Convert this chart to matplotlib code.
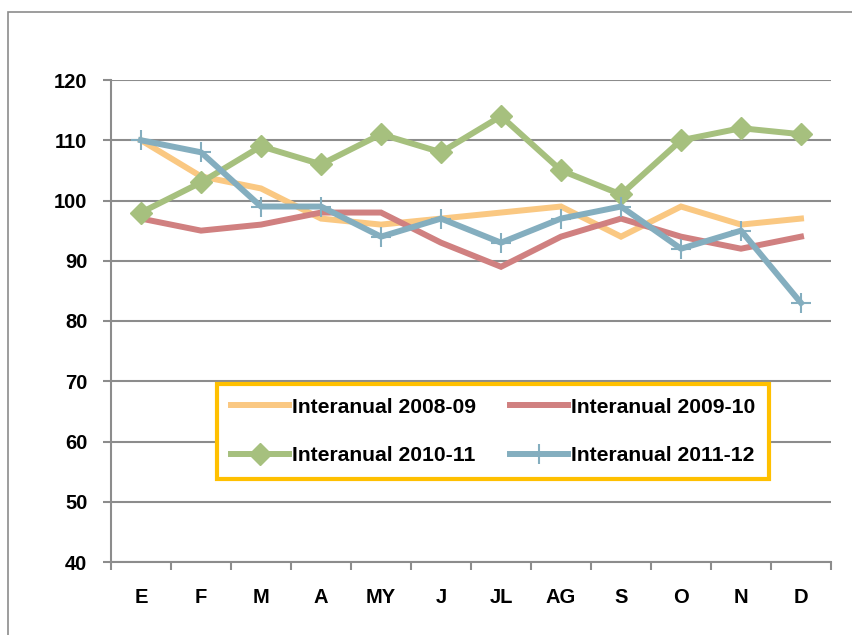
import matplotlib
matplotlib.use("Agg")
import matplotlib.pyplot as plt
from matplotlib.patches import Rectangle

months = ["E", "F", "M", "A", "MY", "J", "JL", "AG", "S", "O", "N", "D"]
s2008_09 = [110, 104, 102, 97, 96, 97, 98, 99, 94, 99, 96, 97]
s2009_10 = [97, 95, 96, 98, 98, 93, 89, 94, 97, 94, 92, 94]
s2010_11 = [98, 103, 109, 106, 111, 108, 114, 105, 101, 110, 112, 111]
s2011_12 = [110, 108, 99, 99, 94, 97, 93, 97, 99, 92, 95, 83]
labels = ["Interanual 2008-09", "Interanual 2009-10", "Interanual 2010-11", "Interanual 2011-12"]
yticks = [40, 50, 60, 70, 80, 90, 100, 110, 120]

plt.rcParams['font.family'] = ['Liberation Sans', 'DejaVu Sans']
plt.rcParams['font.weight'] = 'bold'
fs = 14.5

fig = plt.figure(figsize=(8.53, 6.35), dpi=100)
# outer chart border
fig.patches.append(Rectangle((8/853, -0.05), 1.0, 1 - 12/635 + 0.05, transform=fig.transFigure,
                             fill=False, edgecolor='#8c8c8c', linewidth=1.2))
ax = fig.add_axes([111/853, 1 - 562/635, 720/853, 482/635])

x = list(range(len(months)))
orange = '#FAC882'
red = '#D08080'
green = '#A6C07E'
blue = '#84AEBF'
lw = 4.3
h0, = ax.plot(x, s2008_09, color=orange, lw=lw, label=labels[0], solid_joinstyle='miter', zorder=3)
h1, = ax.plot(x, s2009_10, color=red, lw=lw, label=labels[1], solid_joinstyle='miter', zorder=3)
h2, = ax.plot(x, s2010_11, color=green, lw=lw, marker='D', markersize=11, label=labels[2], zorder=4)
h3, = ax.plot(x, s2011_12, color=blue, lw=lw, marker='+', markersize=14, markeredgewidth=1.5,
              label=labels[3], zorder=5)

ax.set_xlim(-0.5, 11.5)
ax.set_ylim(40, 120)
ax.set_yticks(yticks)
ax.set_xticks(x)
ax.set_xticklabels(months)
ax.set_xticks([i - 0.5 for i in range(13)], minor=True)
ax.tick_params(axis='x', which='major', length=0, pad=19, labelsize=fs)
ax.tick_params(axis='x', which='minor', length=6, width=1.5, color='#8c8c8c', direction='out')
ax.tick_params(axis='y', length=6, width=1.5, color='#8c8c8c', direction='out', pad=11, labelsize=fs)
for lab in ax.get_xticklabels() + ax.get_yticklabels():
    lab.set_fontweight('bold')

ax.grid(axis='y', color='#8c8c8c', lw=1.5)
ax.set_axisbelow(True)
for sp in ['top', 'right']:
    ax.spines[sp].set_visible(False)
for sp in ['left', 'bottom']:
    ax.spines[sp].set_color('#8c8c8c')
    ax.spines[sp].set_linewidth(1.5)

leg = ax.legend([h0, h2, h1, h3], [labels[0], labels[2], labels[1], labels[3]],
                loc='center', bbox_to_anchor=((493 - 111) / 720, (562 - 431.5) / 482), ncol=2,
                frameon=True, fancybox=False, edgecolor='#FFC000', framealpha=1,
                prop={'weight': 'bold', 'size': 15.2}, handlelength=2.75, handletextpad=0.15,
                columnspacing=1.6, borderpad=0.65, labelspacing=1.4)
leg.get_frame().set_linewidth(3)

fig.savefig("out.png", dpi=100)
